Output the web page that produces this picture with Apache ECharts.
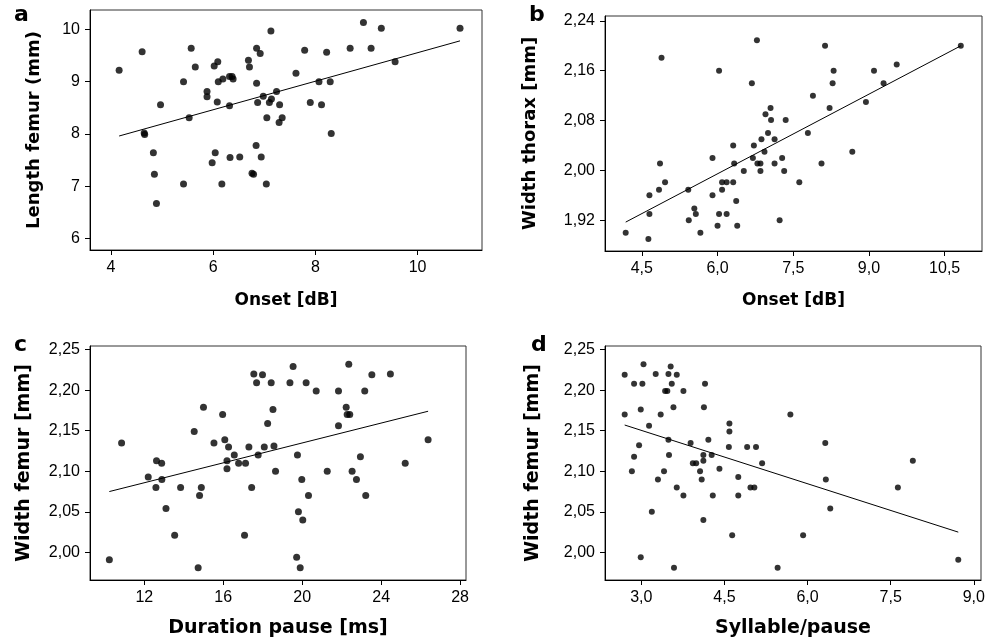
<!DOCTYPE html>
<html>
<head>
<meta charset="utf-8">
<title>Femur / thorax vs song parameters</title>
<script src="https://cdn.jsdelivr.net/npm/echarts@6/dist/echarts.min.js"></script>
<style>
  html, body { margin: 0; padding: 0; background: #fff; }
  #chart { width: 988px; height: 642px; }
</style>
</head>
<body>
<div id="chart"></div>
<script>
// panel a: onset vs femur length
const aOnset = [4.16,4.61,5.57,5.42,5.65,4.97,5.53,4.65,4.66,4.83,4.85,4.89,5.42,5.88,5.88,6.02,6.09,6.10,6.19,6.08,6.32,6.32,6.37,6.39,6.04,5.98,6.17,6.33,6.52,6.69,6.71,6.85,6.92,7.13,6.85,6.98,6.87,7.10,7.14,7.24,7.30,7.05,7.35,7.29,6.84,6.94,6.76,6.79,7.04,7.62,7.79,8.07,8.29,8.22,7.90,8.12,8.31,8.68,8.94,9.09,9.29,9.56,10.83]
const aFemurLen = [9.22,9.57,9.64,9.00,9.28,8.56,8.31,8.02,7.99,7.64,7.23,6.67,7.04,8.81,8.71,9.30,9.38,9.00,9.05,8.61,8.54,9.10,9.10,9.05,7.64,7.45,7.04,7.55,7.56,9.41,9.28,9.64,9.54,9.97,8.97,8.72,8.60,8.60,8.67,8.81,8.56,8.31,8.31,8.22,7.78,7.56,7.25,7.23,7.04,9.16,9.60,9.00,9.00,9.56,8.60,8.56,8.01,9.64,10.13,9.64,10.02,9.38,10.02]
const aFitX = [4.16, 10.83]
const aFitY = [7.96, 9.78]

// panel b: onset vs thorax width
const bOnset = [4.18,4.63,4.65,4.65,4.84,4.86,4.96,4.89,5.42,5.43,5.54,5.57,5.66,5.90,5.90,6.03,6.00,6.03,6.09,6.09,6.18,6.18,6.31,6.31,6.33,6.37,6.39,6.52,6.68,6.70,6.72,6.78,6.79,6.85,6.85,6.87,6.93,6.95,7.00,7.05,7.06,7.13,7.13,7.23,7.28,7.32,7.35,7.62,7.79,7.89,8.06,8.13,8.22,8.28,8.30,8.67,8.94,9.10,9.29,9.55,10.82]
const bThorax = [1.900,1.890,1.930,1.960,1.969,2.011,1.981,2.181,1.969,1.920,1.939,1.930,1.900,2.020,1.960,2.160,1.911,1.930,1.969,1.981,1.981,1.930,1.981,2.040,2.011,1.951,1.911,1.999,2.140,2.020,2.040,2.209,2.011,2.011,1.999,2.050,2.030,2.090,2.060,2.100,2.081,2.050,2.011,1.920,2.020,1.999,2.081,1.981,2.060,2.120,2.011,2.200,2.100,2.140,2.160,2.030,2.110,2.160,2.140,2.170,2.200]
const bFitX = [4.18, 10.82]
const bFitY = [1.917, 2.200]

// panel c: pause duration vs femur width
const cPause = [10.23,10.85,12.20,12.59,12.62,12.88,12.89,13.10,13.54,13.84,14.53,14.80,14.89,15.00,14.73,15.53,15.97,16.08,16.27,16.19,16.19,16.56,16.78,17.08,17.13,17.30,17.44,17.55,17.69,17.77,17.99,18.08,18.25,18.43,18.52,18.57,18.65,19.38,19.54,19.76,19.72,19.90,19.81,20.03,19.98,20.20,20.32,20.71,21.27,21.84,21.84,22.23,22.28,22.41,22.36,22.53,22.75,22.95,23.17,23.22,23.53,24.47,25.22,26.38]
const cFemurW = [1.991,2.135,2.093,2.080,2.113,2.110,2.090,2.054,2.021,2.080,2.149,2.070,2.080,2.179,1.981,2.135,2.170,2.139,2.130,2.113,2.103,2.120,2.110,2.021,2.110,2.130,2.080,2.220,2.209,2.120,2.219,2.130,2.159,2.209,2.176,2.131,2.100,2.209,2.229,2.120,1.994,1.981,2.050,2.040,2.090,2.209,2.070,2.199,2.100,2.199,2.156,2.179,2.170,2.170,2.232,2.100,2.090,2.118,2.199,2.070,2.219,2.220,2.110,2.139]
const cFitX = [10.23, 26.38]
const cFitY = [2.075, 2.174]

// panel d: syllable/pause vs femur width
const dSyll = [2.70,2.70,2.83,2.87,2.87,2.96,2.99,3.02,3.04,2.99,3.14,3.19,3.26,3.30,3.35,3.41,3.43,3.47,3.49,3.49,3.50,3.53,3.55,3.58,3.64,3.64,3.59,3.76,3.76,3.89,3.93,3.99,4.06,4.09,4.12,4.12,4.12,4.13,4.15,4.21,4.27,4.29,4.41,4.58,4.59,4.59,4.64,4.75,4.75,4.91,4.97,5.04,5.07,5.18,5.46,5.69,5.92,6.32,6.33,6.41,7.63,7.90,8.72]
const dFemurW = [2.219,2.170,2.100,2.208,2.118,2.132,2.176,2.208,2.232,1.994,2.156,2.050,2.220,2.090,2.170,2.100,2.199,2.199,2.220,2.139,2.120,2.229,2.208,2.179,2.219,2.080,1.981,2.199,2.070,2.135,2.110,2.110,2.100,2.090,2.120,2.113,2.040,2.179,2.208,2.139,2.120,2.070,2.103,2.130,2.149,2.159,2.021,2.093,2.070,2.130,2.080,2.080,2.130,2.110,1.981,2.170,2.021,2.135,2.090,2.054,2.080,2.113,1.991]
const dFitX = [2.70, 8.72]
const dFitY = [2.157, 2.025]

// tick labels
const aXTicks = [4, 6, 8, 10]
const aYTicks = [6, 7, 8, 9, 10]
const bXTicks = [4.5, 6.0, 7.5, 9.0, 10.5]
const bYTicks = [1.92, 2.00, 2.08, 2.16, 2.24]
const cXTicks = [12, 16, 20, 24, 28]
const dXTicks = [3.0, 4.5, 6.0, 7.5, 9.0]
const cdYTicks = [2.00, 2.05, 2.10, 2.15, 2.20, 2.25]

const zip = (xs, ys) => xs.map((x, i) => [x, ys[i]])
const comma = (d) => (v) => Number(v).toFixed(d).replace('.', ',')

const tickFont = 'Liberation Sans'
const titleFont = 'DejaVu Sans'

function xAxis(grid, min, max, ticks, fmt, name, size, gap) {
  return {
    type: 'value', gridIndex: grid, min: min, max: max,
    name: name, nameLocation: 'middle', nameGap: gap,
    nameTextStyle: { fontFamily: titleFont, fontWeight: 'bold', fontSize: size, color: '#000' },
    axisLine: { onZero: false, lineStyle: { color: '#000', width: 1 } },
    axisTick: { show: true, length: 5, customValues: ticks, lineStyle: { color: '#000' } },
    axisLabel: { customValues: ticks, formatter: fmt, margin: 10, fontFamily: tickFont, fontSize: 16, color: '#000' },
    splitLine: { show: false }
  }
}

function yAxis(grid, min, max, ticks, fmt, name, size, gap) {
  return {
    type: 'value', gridIndex: grid, min: min, max: max,
    name: name, nameLocation: 'middle', nameGap: gap,
    nameTextStyle: { fontFamily: titleFont, fontWeight: 'bold', fontSize: size, color: '#000' },
    axisLine: { onZero: false, lineStyle: { color: '#000', width: 1 } },
    axisTick: { show: true, length: 5, customValues: ticks, lineStyle: { color: '#000' } },
    axisLabel: { customValues: ticks, formatter: fmt, margin: 10, fontFamily: tickFont, fontSize: 16, color: '#000' },
    splitLine: { show: false }
  }
}

function dots(i, xs, ys, size) {
  return {
    type: 'scatter', xAxisIndex: i, yAxisIndex: i,
    data: zip(xs, ys), symbolSize: size,
    itemStyle: { color: '#000' }, silent: true
  }
}

function fit(i, xs, ys) {
  return {
    type: 'line', xAxisIndex: i, yAxisIndex: i,
    data: zip(xs, ys), showSymbol: false, silent: true,
    lineStyle: { color: '#000', width: 1 }
  }
}

const chart = echarts.init(document.getElementById('chart'))

const frame = { show: true, borderColor: '#333', borderWidth: 1, backgroundColor: 'transparent' }

chart.setOption({
  animation: false,
  backgroundColor: '#fff',
  grid: [
    Object.assign({ left: 90, top: 10, width: 392, height: 240 }, frame),
    Object.assign({ left: 605, top: 16, width: 377, height: 235 }, frame),
    Object.assign({ left: 90, top: 346, width: 376, height: 234 }, frame),
    Object.assign({ left: 605, top: 346, width: 376, height: 234 }, frame)
  ],
  xAxis: [
    xAxis(0, 3.59, 11.26, aXTicks, comma(0), 'Onset [dB]', 17, 42),
    xAxis(1, 3.77, 11.24, bXTicks, comma(1), 'Onset [dB]', 17, 41),
    xAxis(2, 9.25, 28.3, cXTicks, comma(0), 'Duration pause [ms]', 19, 39),
    xAxis(3, 2.345, 9.13, dXTicks, comma(1), 'Syllable/pause', 19, 39)
  ],
  yAxis: [
    yAxis(0, 5.78, 10.37, aYTicks, comma(0), 'Length femur (mm)', 18, 47),
    yAxis(1, 1.8706, 2.2479, bYTicks, comma(2), 'Width thorax [mm]', 18, 66),
    yAxis(2, 1.966, 2.2544, cdYTicks, comma(2), 'Width femur [mm]', 19, 56),
    yAxis(3, 1.966, 2.2544, cdYTicks, comma(2), 'Width femur [mm]', 19, 62)
  ],
  graphic: [
    { type: 'text', left: 14, top: 4, style: { text: 'a', font: 'bold 22px "DejaVu Sans"', fill: '#000' } },
    { type: 'text', left: 529, top: 4, style: { text: 'b', font: 'bold 22px "DejaVu Sans"', fill: '#000' } },
    { type: 'text', left: 14, top: 334, style: { text: 'c', font: 'bold 22px "DejaVu Sans"', fill: '#000' } },
    { type: 'text', left: 531, top: 334, style: { text: 'd', font: 'bold 22px "DejaVu Sans"', fill: '#000' } }
  ],
  series: [
    dots(0, aOnset, aFemurLen, 7),
    fit(0, aFitX, aFitY),
    dots(1, bOnset, bThorax, 6),
    fit(1, bFitX, bFitY),
    dots(2, cPause, cFemurW, 7),
    fit(2, cFitX, cFitY),
    dots(3, dSyll, dFemurW, 6),
    fit(3, dFitX, dFitY)
  ]
})
</script>
</body>
</html>
